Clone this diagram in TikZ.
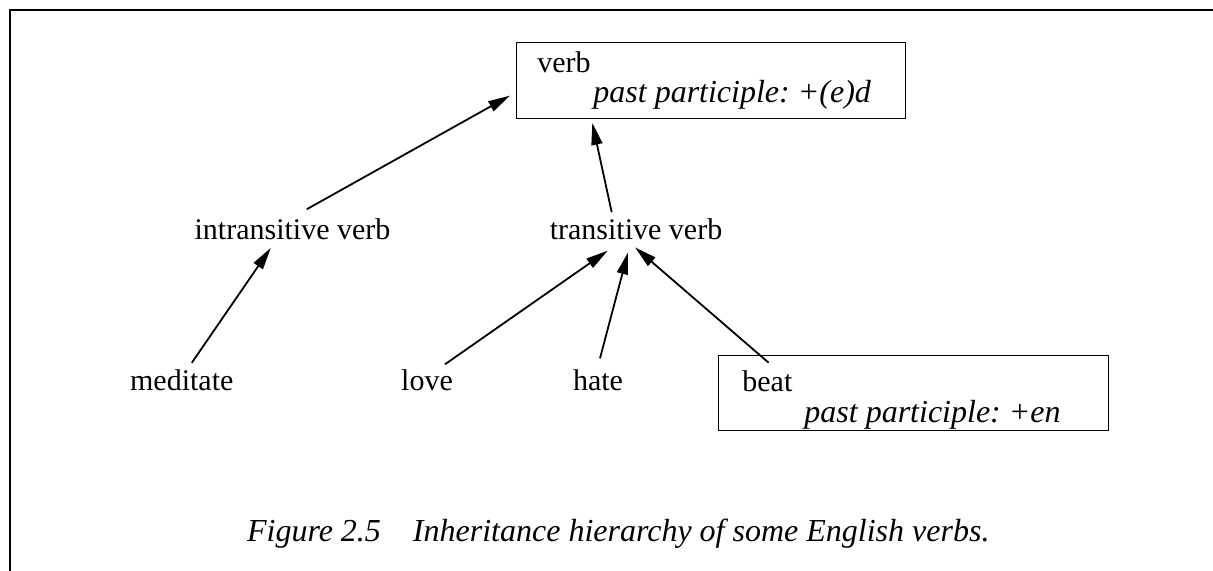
\documentclass[tikz,border=0pt]{standalone}
\usepackage{fontspec}
\setmainfont{Liberation Serif}
\usetikzlibrary{calc,arrows.meta}
\newcommand\slant{\fontsize{16}{19}\selectfont\itshape}

\begin{document}
\frenchspacing
\begin{tikzpicture}[
    x=0.5pt, y=-0.5pt,
    word/.style = {
      inner sep=0pt,
      anchor=base,
      font=\fontsize{15}{18}\selectfont,
    },
    frame/.style = {
      draw=black,
      line width=0.6pt,
      anchor=north west,
    },
    arr/.style = {
      draw=black,
      line width=0.9pt,
      -{Triangle[length=11pt,width=5.5pt]},
    },
  ]
  \useasboundingbox (0,0) rectangle (1213,571);
  \draw[line width=1pt] (10,571) -- (10,10) -- (1213,10);

  \node[frame, minimum width=194.5pt, minimum height=38pt] (verb) at (516,42) {};
  \node[word, anchor=base west] (verbname) at (537,72.7) {verb};
  \node[word, anchor=base west] (verbpp) at (593,103) {\slant past participle: +(e)d};
  \node[word] (intrans) at (292.5,239.3) {intransitive verb};
  \node[word] (trans) at (636,239.3) {transitive verb};
  \node[word] (meditate) at (181.8,390) {meditate};
  \node[word] (love) at (427,390) {love};
  \node[word] (hate) at (598,390) {hate};
  \node[frame, minimum width=195pt, minimum height=37.5pt] (beat) at (718,355) {};
  \node[word, anchor=base west] (beatname) at (742,391) {beat};
  \node[word, anchor=base west] (beatpp) at (804,422) {\slant past participle: +en};
  \node[word, anchor=base west] (caption) at (246.7,541.7)
    {\slant Figure 2.5\quad Inheritance hierarchy of some English verbs.};

  \draw[arr] ($(intrans.north)+(14.2,-8.8)$) -- ($(verb.west)+(-6,15)$);
  \draw[arr] ($(trans.north)+(-24.3,-5.8)$) -- ($(verb.south)+(-118.8,3.7)$);
  \draw[arr] ($(meditate.north)+(10,-6)$) -- ($(intrans.south)+(-21.8,8)$);
  \draw[arr] ($(love.north)+(18,-4.5)$) -- ($(trans.south)+(-28.3,10.7)$);
  \draw[arr] ($(hate.north)+(2,-10.5)$) -- ($(trans.south)+(-8,12.4)$);
  \draw[arr] ($(beat.north)+(-145,7.7)$) -- ($(trans.south)+(-1,7.4)$);
\end{tikzpicture}
\end{document}
